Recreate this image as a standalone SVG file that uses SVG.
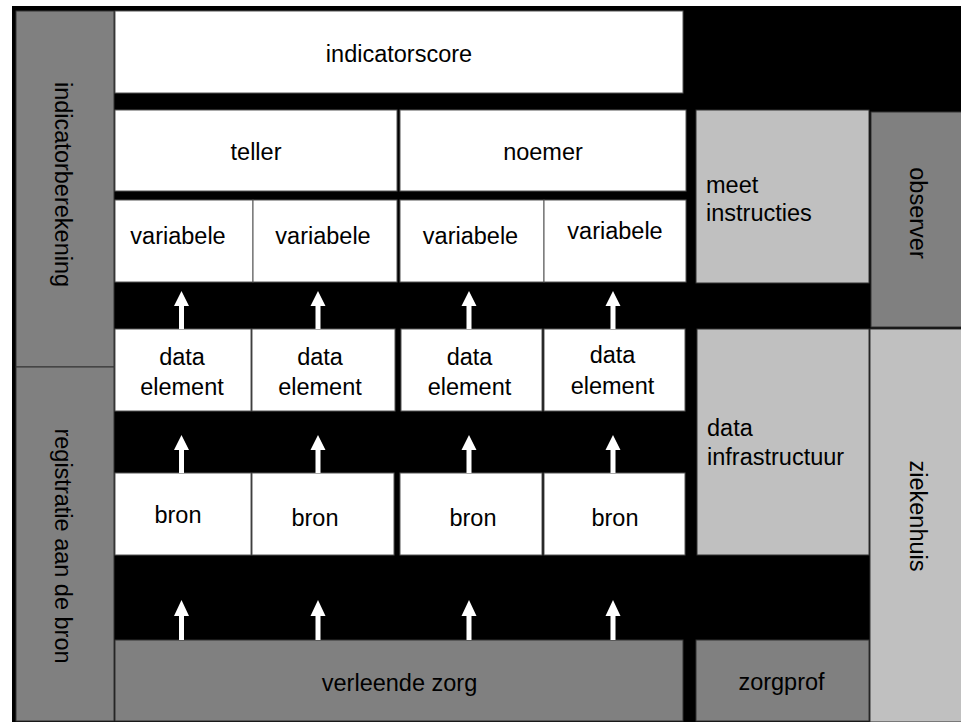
<svg xmlns="http://www.w3.org/2000/svg" width="961" height="722" viewBox="0 0 961 722">
<style>
text{font-family:"Liberation Sans",Arial,sans-serif;font-size:23.5px;fill:#000}
.w{fill:#fff;stroke:#555;stroke-width:1}
.dg{fill:#808080;stroke:#333;stroke-width:1}
.lg{fill:#c0c0c0;stroke:#333;stroke-width:1}
.c{text-anchor:middle}
.arrow{fill:#fff}
</style>
<defs>
<path id="arr" d="M0,0 L7.5,15 L2.5,15 L2.5,38 L-2.5,38 L-2.5,15 L-7.5,15 Z"/>
<path id="arr2" d="M0,0 L7.5,16 L2.5,16 L2.5,40 L-2.5,40 L-2.5,16 L-7.5,16 Z"/>
</defs>
<rect x="12" y="6" width="949" height="716" fill="#000"/>
<g id="indicatorberekening"><rect class="dg" x="16" y="11" width="98" height="356"/><text class="c" transform="translate(55,184.5) rotate(90)">indicatorberekening</text></g>
<g id="registratie"><rect class="dg" x="16" y="367" width="98" height="354"/><text class="c" transform="translate(55,546) rotate(90)">registratie aan de bron</text></g>
<g id="indicatorscore"><rect class="w" x="115" y="11" width="568" height="82"/><text class="c" x="399" y="62">indicatorscore</text></g>
<g id="teller"><rect class="w" x="115" y="110" width="282" height="81"/><text class="c" x="256" y="160">teller</text></g>
<g id="noemer"><rect class="w" x="400" y="110" width="286" height="81"/><text class="c" x="543" y="160">noemer</text></g>
<g id="var1"><rect class="w" x="115" y="200" width="138" height="82"/><text class="c" x="178" y="244">variabele</text></g>
<g id="var2"><rect class="w" x="253" y="200" width="144" height="82"/><text class="c" x="323" y="244">variabele</text></g>
<g id="var3"><rect class="w" x="400" y="200" width="144" height="82"/><text class="c" x="470.5" y="244">variabele</text></g>
<g id="var4"><rect class="w" x="544" y="200" width="142" height="82"/><text class="c" x="615" y="239">variabele</text></g>
<g id="de1"><rect class="w" x="115" y="329" width="136" height="82"/><text class="c" x="182" y="365">data</text><text class="c" x="182" y="395">element</text></g>
<g id="de2"><rect class="w" x="252" y="329" width="143" height="82"/><text class="c" x="320" y="365">data</text><text class="c" x="320" y="395">element</text></g>
<g id="de3"><rect class="w" x="401" y="329" width="141" height="82"/><text class="c" x="469.5" y="365">data</text><text class="c" x="469.5" y="395">element</text></g>
<g id="de4"><rect class="w" x="544" y="329" width="141" height="82"/><text class="c" x="612.5" y="363">data</text><text class="c" x="612.5" y="394">element</text></g>
<g id="bron1"><rect class="w" x="115" y="473" width="136" height="82"/><text class="c" x="178" y="523">bron</text></g>
<g id="bron2"><rect class="w" x="252" y="473" width="142" height="82"/><text class="c" x="315" y="526">bron</text></g>
<g id="bron3"><rect class="w" x="400" y="473" width="142" height="82"/><text class="c" x="473" y="526">bron</text></g>
<g id="bron4"><rect class="w" x="544" y="473" width="141" height="82"/><text class="c" x="615" y="526">bron</text></g>
<g id="verleende"><rect class="dg" x="115" y="640" width="568" height="81"/><text class="c" x="399.5" y="691">verleende zorg</text></g>
<g id="zorgprof"><rect class="dg" x="696" y="640" width="173" height="81"/><text class="c" x="781.5" y="690">zorgprof</text></g>
<g id="meet"><rect class="lg" x="696" y="110" width="173" height="173"/><text x="706" y="193">meet</text><text x="706" y="221">instructies</text></g>
<g id="infra"><rect class="lg" x="697" y="329" width="172" height="226"/><text x="707" y="436">data</text><text x="707" y="465">infrastructuur</text></g>
<g id="observer"><rect class="dg" x="871" y="112" width="91" height="215"/><text class="c" transform="translate(910,213) rotate(90)">observer</text></g>
<g id="ziekenhuis"><rect class="lg" x="870" y="329" width="92" height="393"/><text class="c" transform="translate(910,516) rotate(90)">ziekenhuis</text></g>
<g id="connectors" class="arrow">
<use href="#arr" x="181.5" y="291"/><use href="#arr" x="318" y="291"/><use href="#arr" x="469" y="291"/><use href="#arr" x="613" y="291"/>
<use href="#arr" x="181.5" y="435"/><use href="#arr" x="318" y="435"/><use href="#arr" x="469" y="435"/><use href="#arr" x="613" y="435"/>
<use href="#arr2" x="181.5" y="600"/><use href="#arr2" x="318" y="600"/><use href="#arr2" x="469" y="600"/><use href="#arr2" x="613" y="600"/>
</g>
</svg>
